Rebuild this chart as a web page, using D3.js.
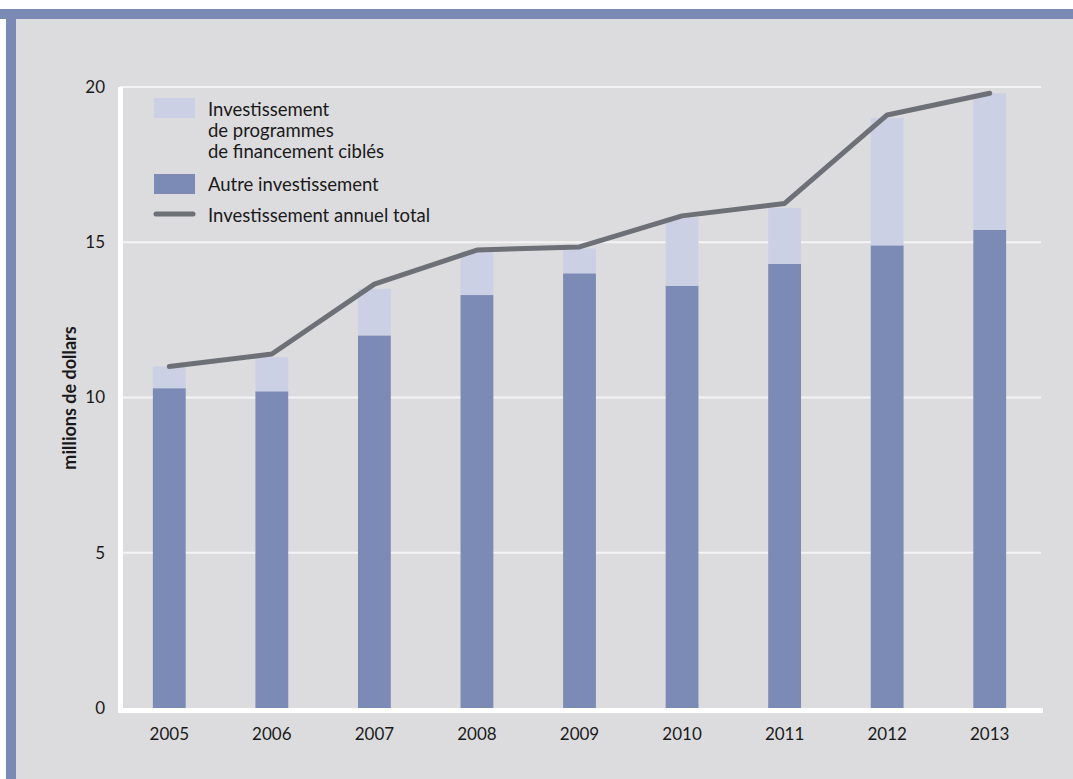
<!DOCTYPE html>
<html>
<head>
<meta charset="utf-8">
<script src="https://cdn.jsdelivr.net/npm/d3@7"></script>
<style>
  body { margin: 0; background: #ffffff; }
  text { font-family: "Lato", "Open Sans", sans-serif; fill: #1a1a1a; }
</style>
</head>
<body>
<div id="chart"></div>
<script>
// Data (millions de dollars)
var years = ["2005", "2006", "2007", "2008", "2009", "2010", "2011", "2012", "2013"];
var autreInvest = [10.3, 10.2, 12.0, 13.3, 14.0, 13.6, 14.3, 14.9, 15.4];
var programmesCibles = [0.7, 1.1, 1.5, 1.4, 0.8, 2.2, 1.8, 4.1, 4.4];
var totalAnnuel = [11.0, 11.4, 13.65, 14.75, 14.85, 15.85, 16.25, 19.1, 19.8];
var yTicks = [0, 5, 10, 15, 20];

var svgWidth = 1073;
var svgHeight = 779;

// plot area (names avoid window.top)
var plotLeft = 120, plotRight = 1041, plotTop = 87, plotBottom = 708;

var svg = d3.select("#chart")
  .append("svg")
  .attr("width", svgWidth)
  .attr("height", svgHeight);

// page background and blue frame
svg.append("rect").attr("x", 0).attr("y", 9).attr("width", svgWidth).attr("height", svgHeight - 9).attr("fill", "#dcdcde");
svg.append("rect").attr("x", 0).attr("y", 9).attr("width", svgWidth).attr("height", 10).attr("fill", "#7b8ab4");
svg.append("rect").attr("x", 6).attr("y", 9).attr("width", 10).attr("height", svgHeight - 9).attr("fill", "#7b8ab4");
svg.append("rect").attr("x", 0).attr("y", 19).attr("width", 6).attr("height", svgHeight - 19).attr("fill", "#ffffff");

var xScale = d3.scaleBand()
  .domain(years)
  .range([118, 1041])
  .paddingInner(0.68)
  .paddingOuter(0.34);

var yScale = d3.scaleLinear()
  .domain([0, 20])
  .range([plotBottom, plotTop]);

// gridlines
svg.append("g")
  .selectAll("line")
  .data(yTicks.filter(d => d > 0))
  .enter()
  .append("line")
  .attr("x1", plotLeft)
  .attr("x2", plotRight)
  .attr("y1", d => yScale(d))
  .attr("y2", d => yScale(d))
  .attr("stroke", "#f4f4f5")
  .attr("stroke-width", 2);

// stacked bars
var stacked = years.map((y, i) => ({ year: y, autre: autreInvest[i], cible: programmesCibles[i] }));

svg.append("g")
  .selectAll("rect")
  .data(stacked)
  .enter()
  .append("rect")
  .attr("x", d => xScale(d.year))
  .attr("width", xScale.bandwidth())
  .attr("y", d => yScale(d.autre))
  .attr("height", d => yScale(0) - yScale(d.autre))
  .attr("fill", "#7b8bb5");

svg.append("g")
  .selectAll("rect")
  .data(stacked)
  .enter()
  .append("rect")
  .attr("x", d => xScale(d.year))
  .attr("width", xScale.bandwidth())
  .attr("y", d => yScale(d.autre + d.cible))
  .attr("height", d => yScale(d.autre) - yScale(d.autre + d.cible))
  .attr("fill", "#cbd0e5");

// total line
var line = d3.line()
  .x((d, i) => xScale(years[i]) + xScale.bandwidth() / 2)
  .y(d => yScale(d));

svg.append("path")
  .datum(totalAnnuel)
  .attr("d", line)
  .attr("fill", "none")
  .attr("stroke", "#6d7076")
  .attr("stroke-width", 5)
  .attr("stroke-linecap", "round")
  .attr("stroke-linejoin", "round");

// axis lines (white)
svg.append("line")
  .attr("x1", 120.5).attr("x2", 120.5)
  .attr("y1", plotTop).attr("y2", plotBottom + 5)
  .attr("stroke", "#ffffff").attr("stroke-width", 5);
svg.append("line")
  .attr("x1", 118).attr("x2", 1043)
  .attr("y1", plotBottom + 2.5).attr("y2", plotBottom + 2.5)
  .attr("stroke", "#ffffff").attr("stroke-width", 5);

// y axis labels
var leftAxis = d3.axisLeft(yScale).tickValues(yTicks).tickSize(0).tickPadding(0);
var yAxisG = svg.append("g")
  .attr("transform", "translate(105, 0)")
  .call(leftAxis);
yAxisG.select(".domain").remove();
yAxisG.selectAll("text")
  .style("font-size", "17px")
  .style("font-family", "Lato, sans-serif")
  .attr("fill", "#1a1a1a");

// x axis labels
var bottomAxis = d3.axisBottom(xScale).tickSize(0).tickPadding(0);
var xAxisG = svg.append("g")
  .attr("transform", "translate(0, 728)")
  .call(bottomAxis);
xAxisG.select(".domain").remove();
xAxisG.selectAll("text")
  .style("font-size", "17px")
  .style("font-family", "Lato, sans-serif")
  .attr("fill", "#1a1a1a");

// y axis title
svg.append("text")
  .attr("transform", "translate(76, 398) rotate(-90)")
  .attr("text-anchor", "middle")
  .style("font-size", "18px")
  .style("font-weight", "bold")
  .text("millions de dollars");

// legend
var legend = svg.append("g");
legend.append("rect").attr("x", 154).attr("y", 98).attr("width", 41).attr("height", 20).attr("fill", "#cbd0e5");
legend.append("rect").attr("x", 154).attr("y", 174).attr("width", 41).attr("height", 20).attr("fill", "#7b8bb5");
legend.append("line").attr("x1", 156).attr("x2", 193).attr("y1", 214).attr("y2", 214)
  .attr("stroke", "#6d7076").attr("stroke-width", 5).attr("stroke-linecap", "round");

var legendLabels = [
  { y: 116, t: "Investissement" },
  { y: 137, t: "de programmes" },
  { y: 158, t: "de financement ciblés" },
  { y: 191, t: "Autre investissement" },
  { y: 222, t: "Investissement annuel total" }
];
legend.selectAll("text.lab")
  .data(legendLabels)
  .enter()
  .append("text")
  .attr("class", "lab")
  .attr("x", 208)
  .attr("y", d => d.y)
  .style("font-size", "18.5px")
  .text(d => d.t);
</script>
</body>
</html>
